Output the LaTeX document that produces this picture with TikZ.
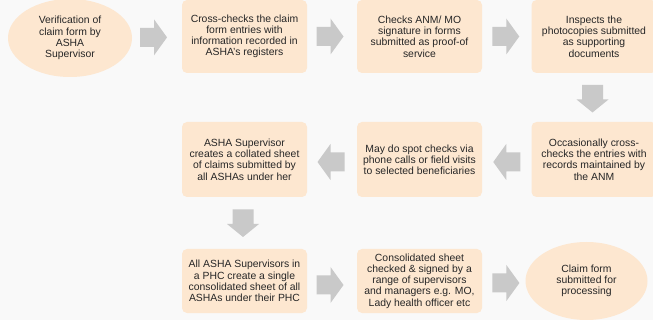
\documentclass[tikz,border=0pt]{standalone}
\usepackage{fontspec}
\setmainfont{Liberation Sans}
\usetikzlibrary{shapes.geometric,calc}
\definecolor{bg}{HTML}{F9F9F9}
\definecolor{peach}{HTML}{FDE7D0}
\definecolor{arrowgray}{HTML}{C9C9C9}
\definecolor{txt}{HTML}{262626}
\tikzset{
  txtstyle/.style={text=txt, font=\fontsize{10.4}{11.2}\selectfont, align=center, inner sep=0pt},
  stepbox/.style={txtstyle, rectangle, rounded corners=5pt, fill=peach, minimum width=125pt},
  endoval/.style={txtstyle, ellipse, fill=peach},
  rarr/.pic={\fill[arrowgray] (-13.5,-9.5) -- (0.5,-9.5) -- (0.5,-18) -- (13.5,0) -- (0.5,18) -- (0.5,9.5) -- (-13.5,9.5) -- cycle;},
  darr/.pic={\fill[arrowgray] (-13.5,-10.5) -- (1,-10.5) -- (1,-16) -- (14,0) -- (1,16) -- (1,10.5) -- (-13.5,10.5) -- cycle;}
}
\begin{document}
\begin{tikzpicture}[x=1pt,y=-1pt]
\fill[bg] (0,0) rectangle (653,320);
\useasboundingbox (0,0) rectangle (653,320);
% row 1
\node[endoval, minimum width=124pt, minimum height=78pt] (e1) at (70,38) {Verification of\\claim form by\\ASHA\\Supervisor};
\node[stepbox, minimum height=73pt] (b2) at (244.5,36.5) {Cross-checks the claim\\form entries with\\information recorded in\\ASHA's registers};
\node[stepbox, minimum height=73pt] (b3) at (419.5,36.5) {Checks ANM/ MO\\signature in forms\\submitted as proof-of\\service};
\node[stepbox, minimum height=73pt] (b4) at (594,36.5) {Inspects the\\photocopies submitted\\as supporting\\documents};
% row 2
\node[stepbox, minimum height=75pt] (b5) at (594,159.5) {Occasionally cross-\\checks the entries with\\records maintained by\\the ANM};
\node[stepbox, minimum height=75pt] (b6) at (419.5,159.5) {May do spot checks via\\phone calls or field visits\\to selected beneficiaries};
\node[stepbox, minimum height=75pt] (b7) at (244.5,159.5) {ASHA Supervisor\\creates a collated sheet\\of claims submitted by\\all ASHAs under her};
% row 3
\node[stepbox, minimum height=64pt] (b8) at (244.5,281) {All ASHA Supervisors in\\a PHC create a single\\consolidated sheet of all\\ASHAs under their PHC};
\node[stepbox, minimum height=64pt] (b9) at (419.5,281) {Consolidated sheet\\checked \& signed by a\\range of supervisors\\and managers e.g. MO,\\Lady health officer etc};
\node[endoval, minimum width=122pt, minimum height=78pt] (e10) at (586.5,281) {Claim form\\submitted for\\processing};
% arrows
\pic at ($(e1.east)!0.43!(b2.west)$) {rarr};
\pic at ($(b2.east)!0.46!(b3.west)$) {rarr};
\pic at ($(b3.east)!0.48!(b4.west)$) {rarr};
\pic[rotate=-90] at ($(b4.south)!0.52!(b5.north) + (-1.5,0)$) {darr};
\pic[rotate=180] at ($(b5.west)!0.5!(b6.east) + (0,2.5)$) {rarr};
\pic[rotate=180] at ($(b6.west)!0.52!(b7.east) + (0,2.5)$) {rarr};
\pic[rotate=-90] at ($(b7.south)!0.5!(b8.north) + (-1.5,0)$) {darr};
\pic at ($(b8.east)!0.46!(b9.west) + (0,4)$) {rarr};
\pic at ($(b9.east)!0.55!(e10.west) + (0,2)$) {rarr};
\end{tikzpicture}
\end{document}
